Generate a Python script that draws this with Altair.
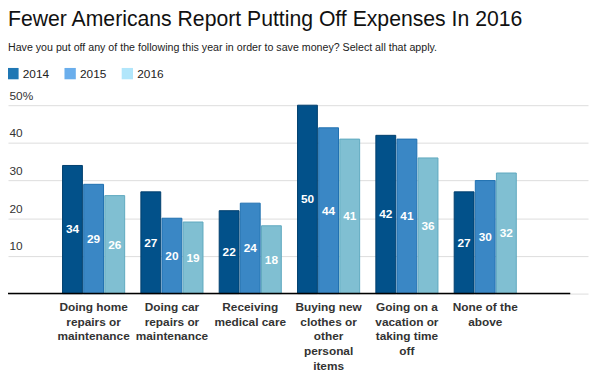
import altair as alt
import pandas as pd

categories = [
    "Doing home|repairs or|maintenance",
    "Doing car|repairs or|maintenance",
    "Receiving|medical care",
    "Buying new|clothes or|other|personal|items",
    "Going on a|vacation or|taking time|off",
    "None of the|above",
]
years = ["2014", "2015", "2016"]
v2014 = [34, 27, 22, 50, 42, 27]
v2015 = [29, 20, 24, 44, 41, 30]
v2016 = [26, 19, 18, 41, 36, 32]

legend_colors = ["#1f77b4", "#6aaeec", "#b1e6fb"]
fill_colors = ["#02518a", "#3a87c5", "#80bfd2"]
stroke_colors = ["#003f6e", "#1e70b0", "#5ea9bf"]

rows = []
for yr, vals in zip(years, [v2014, v2015, v2016]):
    for c, v in zip(categories, vals):
        rows.append({"cat": c, "year": yr, "value": v})
df = pd.DataFrame(rows)

FONT = "Liberation Sans"

x_enc = alt.X(
    "cat:N", sort=categories, title=None,
    scale=alt.Scale(paddingInner=0.207, paddingOuter=0.806, align=0.432),
    axis=alt.Axis(
        labelExpr="split(datum.label, '|')", labelAngle=0, domain=False, ticks=False,
        labelFontWeight="bold", labelFontSize=12, labelColor="#333333",
        labelLineHeight=15, labelPadding=8, labelLimit=300, labelFont=FONT,
        labelBaseline="top", grid=False,
    ),
)
xo_enc = alt.XOffset("year:N", sort=years, scale=alt.Scale(paddingInner=0.06, paddingOuter=0))
y_axis = alt.Axis(
    values=[0, 10, 20, 30, 40, 50],
    labelExpr="datum.value == 0 ? '' : (datum.value == 50 ? '50%' : datum.label)",
    labelAlign="left", labelBaseline="alphabetic", labelOffset=-6, labelPadding=-1,
    ticks=False, domain=False, grid=True, gridColor="#dcdcdc", gridWidth=1,
    labelFontSize=12, labelColor="#333333", labelFont=FONT,
)
y_scale = alt.Scale(domain=[0, 50], nice=False)

base = alt.Chart(df)

# zero-height bars that only carry the legend (legend colours differ from bar colours)
legend_layer = base.mark_bar().encode(
    x=x_enc, xOffset=xo_enc,
    y=alt.Y(datum=0, scale=y_scale, title=None, axis=y_axis),
    color=alt.Color(
        "year:N", scale=alt.Scale(domain=years, range=legend_colors),
        legend=alt.Legend(
            orient="none", legendX=-1, legendY=-38, direction="horizontal", title=None,
            symbolType="square", symbolSize=132, symbolStrokeWidth=0, symbolOpacity=1,
            labelFontSize=12, labelFont=FONT, labelColor="#222222", labelOffset=4,
            columnPadding=15,
        ),
    ),
)

bars = base.mark_bar(strokeWidth=1).encode(
    x=x_enc, xOffset=xo_enc,
    y=alt.Y("value:Q", scale=y_scale, title=None, axis=y_axis),
    fill=alt.Fill("year:N", scale=alt.Scale(domain=years, range=fill_colors), legend=None),
    stroke=alt.Stroke("year:N", scale=alt.Scale(domain=years, range=stroke_colors), legend=None),
)

labels = base.transform_calculate(half="datum.value / 2").mark_text(
    color="white", fontWeight="bold", fontSize=12, font=FONT, baseline="middle"
).encode(
    x=x_enc, xOffset=xo_enc,
    y=alt.Y("half:Q", scale=y_scale, title=None, axis=y_axis),
    text="value:Q",
)

baseline = alt.Chart(pd.DataFrame({"z": [0]})).mark_rule(color="black", strokeWidth=1.5).encode(
    y=alt.Y("z:Q", scale=y_scale, title=None, axis=y_axis),
    x=alt.value(-1), x2=alt.value(570),
)

chart = alt.layer(legend_layer, bars, labels, baseline).properties(
    width=588, height=191,
    autosize=alt.AutoSizeParams(type="none"),
    padding={"left": 0, "top": 96, "right": 1, "bottom": 80},
    title=alt.Title(
        text="Fewer Americans Report Putting Off Expenses In 2016",
        subtitle="Have you put off any of the following this year in order to save money? Select all that apply.",
        anchor="start", frame="group", font=FONT, fontSize=21.5, fontWeight="normal",
        color="#111111", subtitleFont=FONT, subtitleFontSize=10.8, subtitleColor="#222222",
        subtitlePadding=12, offset=15,
    ),
).configure_view(stroke=None)

chart.save("out.html", embed_options={"renderer": "svg", "actions": False})
